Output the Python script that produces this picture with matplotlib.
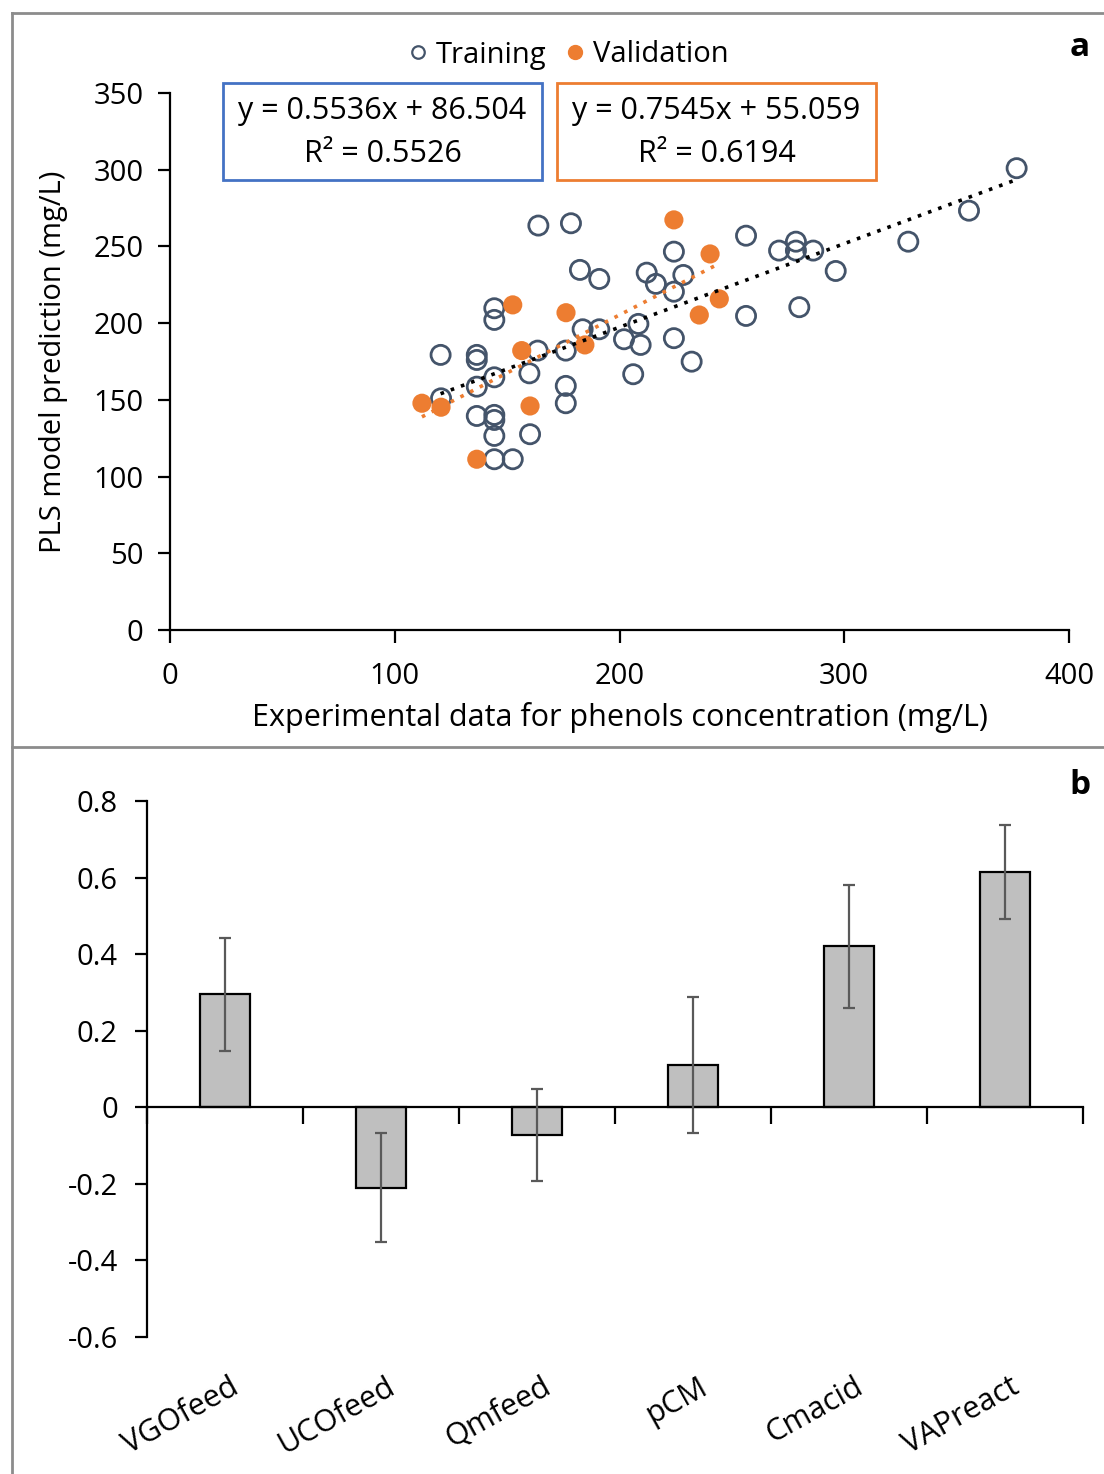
import numpy as np
import matplotlib.pyplot as plt
from matplotlib.patches import Rectangle
from matplotlib.lines import Line2D

plt.rcParams['font.family'] = ['Open Sans', 'DejaVu Sans']

# panel a: experimental vs PLS prediction (mg/L)
train_x = np.array([163.9, 178.4, 182.4, 191.0, 144.3, 144.3, 183.6, 191.0, 120.4, 136.5,
                    136.5, 163.6, 176.1, 144.3, 136.5, 159.9, 120.6, 136.5, 144.3, 144.3,
                    144.3, 160.2, 176.1, 176.1, 144.3, 152.5, 224.2, 212.1, 216.2, 228.4,
                    224.2, 208.4, 202.0, 209.4, 224.2, 232.1, 206.1, 256.3, 256.3, 271.0,
                    278.5, 278.5, 286.2, 296.2, 280.0, 328.5, 355.5, 376.7])
train_y = np.array([263.6, 265.1, 234.7, 228.8, 209.7, 202.1, 196.0, 196.0, 179.3, 179.3,
                    176.0, 182.1, 182.1, 164.7, 158.6, 167.3, 151.0, 139.5, 140.2, 136.9,
                    126.5, 127.6, 159.1, 147.8, 111.3, 111.3, 246.6, 232.9, 225.6, 231.4,
                    220.5, 199.5, 189.5, 185.8, 190.2, 174.9, 166.7, 257.0, 204.7, 247.3,
                    253.1, 247.3, 247.3, 234.0, 210.4, 253.1, 273.3, 301.0])
valid_x = np.array([224.2, 152.5, 176.2, 156.5, 184.6, 112.1, 120.6, 160.2, 136.5, 240.3,
                    244.4, 235.5])
valid_y = np.array([267.3, 211.9, 206.8, 182.1, 185.8, 147.8, 145.2, 146.0, 111.3, 245.1,
                    215.8, 205.3])
eq_train = ['y = 0.5536x + 86.504', 'R² = 0.5526']
eq_valid = ['y = 0.7545x + 55.059', 'R² = 0.6194']

# panel b: PLS coefficients
variables = ['VGOfeed', 'UCOfeed', 'Qmfeed', 'pCM', 'Cmacid', 'VAPreact']
coefs = [0.295, -0.21, -0.072, 0.11, 0.42, 0.615]
coef_err = [0.147, 0.143, 0.12, 0.177, 0.16, 0.123]

blue_gray = '#44546A'
orange = '#ED7D31'

fig = plt.figure(figsize=(11.04, 14.74), dpi=100)

# outer frame lines
frame = dict(color='#8c8c8c', lw=2, transform=fig.transFigure)
fig.add_artist(Line2D([12/1104, 12/1104], [0, 1 - 13/1474], **frame))
fig.add_artist(Line2D([12/1104, 1], [1 - 13/1474, 1 - 13/1474], **frame))
fig.add_artist(Line2D([12/1104, 1], [1 - 747/1474, 1 - 747/1474], **frame))

# ---- panel a ----
ax = fig.add_axes([170/1104, 1 - 630/1474, 899/1104, 537/1474])
ax.scatter(train_x, train_y, s=190, facecolors='none', edgecolors=blue_gray, linewidths=2, zorder=3)
ax.scatter(valid_x, valid_y, s=190, color=orange, edgecolors='none', zorder=3)

p = np.polyfit(train_x, train_y, 1)
xx = np.array([train_x.min(), train_x.max()])
ax.plot(xx, np.polyval(p, xx), color='black', ls=(0, (1, 2)), lw=2.6, zorder=4)
p = np.polyfit(valid_x, valid_y, 1)
xx = np.array([valid_x.min(), valid_x.max()])
ax.plot(xx, np.polyval(p, xx), color=orange, ls=(0, (1, 2)), lw=2.6, zorder=4)

ax.set_xlim(0, 400)
ax.set_ylim(0, 350)
ax.set_xticks(range(0, 401, 100))
ax.set_yticks(range(0, 351, 50))
for s in ['top', 'right']:
    ax.spines[s].set_visible(False)
for s in ['left', 'bottom']:
    ax.spines[s].set_linewidth(1.6)
ax.tick_params(labelsize=21, width=1.6, length=9)
ax.tick_params(axis='x', pad=14)
ax.tick_params(axis='y', pad=10)
ax.set_xlabel('Experimental data for phenols concentration (mg/L)', fontsize=22, labelpad=8)
ax.set_ylabel('PLS model prediction (mg/L)', fontsize=21, labelpad=18)

leg_handles = [Line2D([], [], marker='o', ls='none', ms=9, mfc='none', mec=blue_gray, mew=1.6),
               Line2D([], [], marker='o', ls='none', ms=10, mfc=orange, mec=orange)]
fig.legend(leg_handles, ['Training', 'Validation'], loc='center', ncol=2,
           bbox_to_anchor=(566/1104, 1 - 55/1474), frameon=False, fontsize=21,
           handletextpad=0.1, columnspacing=0.5, handlelength=1.0)

for (x0, x1), col, lines in [((223, 542), '#4472C4', eq_train), ((557, 876), orange, eq_valid)]:
    fig.add_artist(Rectangle((x0/1104, 1 - 180/1474), (x1 - x0)/1104, 97/1474,
                             transform=fig.transFigure, fill=False, ec=col, lw=2))
    xc = (x0 + x1) / 2 / 1104
    fig.text(xc, 1 - 111/1474, lines[0], ha='center', va='center', fontsize=22)
    fig.text(xc, 1 - 154/1474, lines[1], ha='center', va='center', fontsize=22)

fig.text(1080/1104, 1 - 47/1474, 'a', ha='center', va='center', fontsize=24, fontweight='bold')

# ---- panel b ----
bx = fig.add_axes([147/1104, 1 - 1337/1474, 936/1104, 536/1474])
pos = np.arange(len(variables))
bx.bar(pos, coefs, width=0.32, color='#BFBFBF', edgecolor='black', linewidth=1.6, zorder=2)
bx.errorbar(pos, coefs, yerr=coef_err, fmt='none', ecolor='#595959', elinewidth=1.6,
            capsize=4, capthick=1.6, zorder=3)
bx.set_xlim(-0.5, 5.5)
bx.set_ylim(-0.6, 0.8)
bx.set_yticks(np.arange(-0.6, 0.81, 0.2))
bx.set_yticklabels(['-0.6', '-0.4', '-0.2', '0', '0.2', '0.4', '0.6', '0.8'])
bx.set_xticks(np.arange(-0.5, 5.6, 1))
bx.set_xticklabels([])
bx.spines['bottom'].set_position(('data', 0))
for s in ['top', 'right']:
    bx.spines[s].set_visible(False)
for s in ['left', 'bottom']:
    bx.spines[s].set_linewidth(1.6)
bx.tick_params(axis='y', labelsize=21, width=1.6, length=9, pad=12)
bx.tick_params(axis='x', width=1.6, length=12)
for i, name in enumerate(variables):
    bx.text(i + 0.03, -0.065, name, transform=bx.get_xaxis_transform(), ha='right', va='top',
            rotation=29, rotation_mode='anchor', fontsize=22)

fig.text(1080/1104, 1 - 785/1474, 'b', ha='center', va='center', fontsize=24, fontweight='bold')

fig.savefig('out.png', dpi=100)
